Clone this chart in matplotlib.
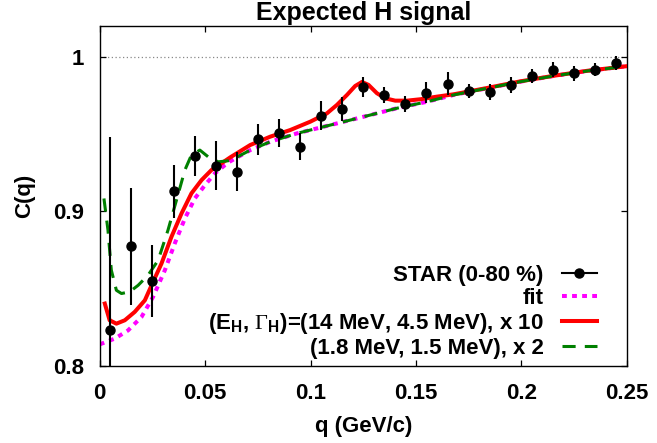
import matplotlib
matplotlib.use("Agg")
import matplotlib.pyplot as plt
from matplotlib.lines import Line2D

plt.rcParams['font.family'] = ['Liberation Sans', 'DejaVu Sans']
plt.rcParams['font.weight'] = 'bold'
plt.rcParams['mathtext.fontset'] = 'custom'
plt.rcParams['mathtext.rm'] = 'Liberation Serif:weight=normal'
plt.rcParams['mathtext.bf'] = 'Liberation Sans:bold'
plt.rcParams['mathtext.it'] = 'Liberation Sans:bold'

# ---- data ----
q_data = [0.005, 0.015, 0.025, 0.035, 0.045, 0.055, 0.065, 0.075, 0.085, 0.095,
          0.105, 0.115, 0.125, 0.135, 0.145, 0.155, 0.165, 0.175, 0.185, 0.195,
          0.205, 0.215, 0.225, 0.235, 0.245]
c_data = [0.823, 0.8775, 0.855, 0.913, 0.936, 0.9296, 0.9257, 0.9467, 0.951, 0.942,
          0.962, 0.9663, 0.9804, 0.9754, 0.9693, 0.9769, 0.9827, 0.9778, 0.9773, 0.9819,
          0.9877, 0.9918, 0.9894, 0.9918, 0.9961]
c_err = [0.125, 0.038, 0.023, 0.017, 0.013, 0.0157, 0.0126, 0.010, 0.009, 0.0085,
         0.0095, 0.008, 0.0065, 0.005, 0.0052, 0.0068, 0.0073, 0.0047, 0.0049, 0.0054,
         0.0047, 0.0047, 0.0047, 0.0044, 0.0045]

q_fit = [0.0, 0.0071, 0.0134, 0.0198, 0.0253, 0.0309, 0.0356, 0.0404, 0.0451, 0.0499,
         0.0546, 0.0594, 0.0620, 0.0714, 0.0809, 0.0935, 0.1094, 0.1252, 0.1410, 0.1553,
         0.1679, 0.1838, 0.1996, 0.2154, 0.2312, 0.2500]
c_fit = [0.8140, 0.8177, 0.8230, 0.8317, 0.8447, 0.8620, 0.8793, 0.8955, 0.9084, 0.9170,
         0.9246, 0.9300, 0.9325, 0.9397, 0.9451, 0.9505, 0.9559, 0.9613, 0.9668, 0.9710,
         0.9754, 0.9797, 0.9840, 0.9877, 0.9909, 0.9940]

q_red = [0.0024, 0.0047, 0.0079, 0.0119, 0.0166, 0.0214, 0.0253, 0.0293, 0.0340, 0.0388,
         0.0435, 0.0483, 0.0530, 0.0577, 0.0619, 0.0714, 0.0809, 0.0904, 0.0999, 0.1078,
         0.1125, 0.1173, 0.1212, 0.1244, 0.1275, 0.1315, 0.1355, 0.1402, 0.1458, 0.1521,
         0.1600, 0.1679, 0.1838, 0.1996, 0.2154, 0.2312, 0.2500]
c_red = [0.8404, 0.8296, 0.8274, 0.8296, 0.8350, 0.8425, 0.8544, 0.8663, 0.8835, 0.8987,
         0.9117, 0.9203, 0.9268, 0.9311, 0.9350, 0.9430, 0.9484, 0.9527, 0.9581, 0.9635,
         0.9689, 0.9754, 0.9812, 0.9838, 0.9819, 0.9765, 0.9732, 0.9717, 0.9717, 0.9726,
         0.9743, 0.9758, 0.9799, 0.9842, 0.9878, 0.9910, 0.9940]

q_green = [0.0020, 0.0039, 0.0055, 0.0079, 0.0103, 0.0142, 0.0182, 0.0229, 0.0277, 0.0324,
           0.0364, 0.0404, 0.0435, 0.0475, 0.0514, 0.0562, 0.0609, 0.0649, 0.0714, 0.0809,
           0.0935, 0.1094, 0.1252, 0.1410, 0.1553, 0.1679, 0.1838, 0.1996, 0.2154, 0.2312,
           0.2500]
c_green = [0.9084, 0.8880, 0.8620, 0.8490, 0.8469, 0.8480, 0.8522, 0.8587, 0.8684, 0.8880,
           0.9073, 0.9268, 0.9365, 0.9397, 0.9354, 0.9321, 0.9328, 0.9350, 0.9397, 0.9451,
           0.9505, 0.9559, 0.9613, 0.9668, 0.9710, 0.9754, 0.9797, 0.9840, 0.9877, 0.9909,
           0.9940]

x_ticks = [0, 0.05, 0.1, 0.15, 0.2, 0.25]
x_ticklabels = ['0', '0.05', '0.1', '0.15', '0.2', '0.25']
y_ticks = [0.8, 0.9, 1.0]
y_ticklabels = ['0.8', '0.9', '1']

labels = ['STAR (0-80 %)', 'fit',
          r'(E$_\mathbf{H}$, $\mathrm{\Gamma}_\mathbf{H}$)=(14 MeV, 4.5 MeV), x 10',
          '(1.8 MeV, 1.5 MeV), x 2']

# ---- figure ----
fig = plt.figure(figsize=(6.57, 4.43), dpi=100)
ax = fig.add_axes([0.1518, 0.1738, 0.8021, 0.7675])

ax.axhline(1.0, color='#888888', lw=0.9, ls=(0, (1, 2)), zorder=1)

magenta = '#ff00ff'
red = '#ff0000'
green = '#008000'

ax.plot(q_fit, c_fit, color=magenta, lw=2.9, ls=(0, (1.2, 1.3)), zorder=2)
ax.plot(q_red, c_red, color=red, lw=2.9, zorder=3, solid_joinstyle='round')
ax.plot(q_green, c_green, color=green, lw=2.2, ls=(0, (4.3, 3.0)), zorder=4)
ax.errorbar(q_data, c_data, yerr=c_err, fmt='o', color='black', ms=6.5,
            elinewidth=1.5, capsize=0, zorder=5)

ax.set_xlim(0, 0.25)
ax.set_ylim(0.8, 1.02)
ax.set_xticks(x_ticks)
ax.set_xticklabels(x_ticklabels)
ax.set_yticks(y_ticks)
ax.set_yticklabels(y_ticklabels)
ax.tick_params(axis='both', direction='in', length=4.5, width=0.9,
               top=True, right=True, labelsize=16)
ax.tick_params(axis='x', pad=12)
ax.tick_params(axis='y', pad=11)
for s in ax.spines.values():
    s.set_linewidth(1.0)

ax.set_xlabel('q (GeV/c)', fontsize=16, fontweight='bold', labelpad=9)
ax.set_ylabel('C(q)', fontsize=16, fontweight='bold', labelpad=13)
ax.set_title('Expected H signal', fontsize=18, fontweight='bold', pad=4.5)

handles = [
    Line2D([], [], color='black', marker='o', ms=6.5, lw=1.5),
    Line2D([], [], color=magenta, lw=2.9, ls=(0, (1.2, 1.3))),
    Line2D([], [], color=red, lw=2.9),
    Line2D([], [], color=green, lw=2.2, ls=(0, (4.3, 3.0))),
]
leg = ax.legend(handles, labels, loc='lower right', frameon=False, markerfirst=False,
                fontsize=16, handlelength=1.58, handletextpad=0.8, labelspacing=0.1,
                borderpad=0, borderaxespad=0, bbox_to_anchor=(0.943, 0.02))

fig.savefig('out.png', dpi=100)
